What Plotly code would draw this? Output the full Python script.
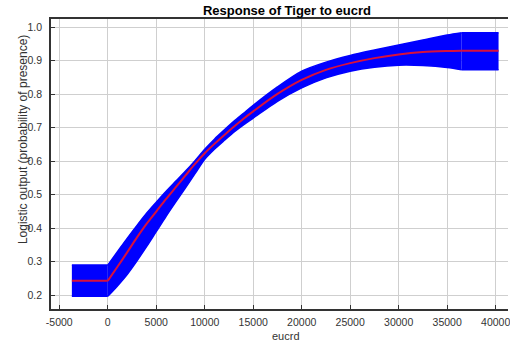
import plotly.graph_objects as go

# Data
x_vals = [-3700, 0, 1000, 2000, 3000, 4000, 5000, 6000, 7000, 8000, 9000, 10000,
          11000, 12000, 13000, 14000, 15000, 17500, 20000, 22500, 25000, 27500,
          30000, 32500, 35000, 36500, 40300]
mean_vals = [0.243, 0.243, 0.285, 0.328, 0.372, 0.413, 0.450, 0.487, 0.522, 0.557,
             0.592, 0.624, 0.652, 0.678, 0.703, 0.727, 0.749, 0.801, 0.843, 0.873,
             0.893, 0.908, 0.919, 0.926, 0.929, 0.930, 0.930]
upper_vals = [0.290, 0.290, 0.330, 0.370, 0.408, 0.445, 0.478, 0.510, 0.540, 0.570,
              0.602, 0.636, 0.666, 0.693, 0.719, 0.743, 0.767, 0.822, 0.869, 0.896,
              0.916, 0.932, 0.947, 0.962, 0.977, 0.984, 0.984]
lower_vals = [0.197, 0.197, 0.228, 0.262, 0.302, 0.345, 0.390, 0.435, 0.478, 0.520,
              0.563, 0.606, 0.636, 0.662, 0.687, 0.709, 0.729, 0.779, 0.819, 0.849,
              0.869, 0.881, 0.887, 0.886, 0.880, 0.873, 0.873]

x_ticks = [-5000, 0, 5000, 10000, 15000, 20000, 25000, 30000, 35000, 40000]
y_ticks = [0.2, 0.3, 0.4, 0.5, 0.6, 0.7, 0.8, 0.9, 1.0]

W, H = 510, 347
L, T, B, R = 51, 19, 38, 0
pw = W - L - R
ph = H - T - B

BLUE = "#0000ff"
RED = "#d8103c"

fig = go.Figure()

# segments: flat start (linear), smooth middle (spline), flat end (linear)
n = len(x_vals)
segments = [(0, 2, "linear"), (1, n - 1, "spline"), (n - 2, n, "linear")]
for a, b, shape in segments:
    xs = x_vals[a:b]
    fig.add_trace(go.Scatter(x=xs, y=lower_vals[a:b], mode="lines",
                             line=dict(color=BLUE, width=1.5, shape=shape, smoothing=0.8),
                             showlegend=False, hoverinfo="skip"))
    fig.add_trace(go.Scatter(x=xs, y=upper_vals[a:b], mode="lines", fill="tonexty",
                             fillcolor=BLUE,
                             line=dict(color=BLUE, width=1.5, shape=shape, smoothing=0.8),
                             showlegend=False, hoverinfo="skip"))
for a, b, shape in segments:
    fig.add_trace(go.Scatter(x=x_vals[a:b], y=mean_vals[a:b], mode="lines",
                             line=dict(color=RED, width=2, shape=shape, smoothing=0.8),
                             showlegend=False))

font_family = "Liberation Sans, Arial, sans-serif"

fig.update_layout(
    width=W, height=H,
    margin=dict(l=L, r=R, t=T, b=B, pad=0),
    paper_bgcolor="white", plot_bgcolor="white",
    font=dict(family=font_family, size=10.5, color="#333333"),
    title=dict(text="<b>Response of Tiger to eucrd</b>", x=287 / W, xref="container",
               xanchor="center", y=1 - 10 / H, yref="container", yanchor="middle",
               font=dict(size=13, color="black", family=font_family)),
    xaxis=dict(
        range=[-5852, 41273], tickvals=x_ticks, ticktext=[str(v) for v in x_ticks],
        showgrid=True, gridcolor="#cfcfcf", gridwidth=1,
        zeroline=False, showline=True, linecolor="#333333", linewidth=1.5,
        mirror=True, ticks="inside", ticklen=4, tickcolor="#333333",
        tickfont=dict(size=10.5, color="#333333"), ticklabeloverflow="allow",
        ticklabelstandoff=3,
    ),
    yaxis=dict(
        range=[0.159, 1.0248], tickvals=y_ticks, ticktext=[f"{v:.1f}" for v in y_ticks],
        showgrid=True, gridcolor="#cfcfcf", gridwidth=1,
        zeroline=False, showline=True, linecolor="#333333", linewidth=1.5,
        ticks="inside", ticklen=4, tickcolor="#333333",
        tickfont=dict(size=10.5, color="#333333"), ticklabelstandoff=5,
    ),
    annotations=[
        dict(text="eucrd", x=(287 - L) / pw, xref="paper", y=(H - B - 336) / ph,
             yref="paper", xanchor="center", yanchor="middle", showarrow=False,
             font=dict(size=11, color="#333333")),
        dict(text="Logistic output (probability of presence)", textangle=-90,
             x=(23 - L) / pw, y=(H - B - 140) / ph, xref="paper", yref="paper",
             xanchor="center", yanchor="middle", showarrow=False,
             font=dict(size=12, color="#333333")),
    ],
)

fig.write_html("out.html")
